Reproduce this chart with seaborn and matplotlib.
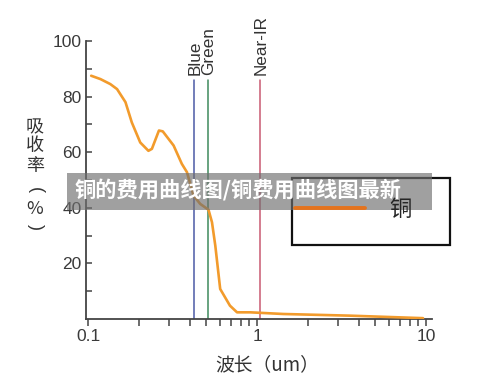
import matplotlib
matplotlib.use("Agg")
import matplotlib.pyplot as plt
import seaborn as sns
import pandas as pd
from matplotlib.patches import Rectangle
from matplotlib.lines import Line2D
from matplotlib.ticker import FixedLocator, NullFormatter

# ---- data ----
wavelength = [0.104, 0.118, 0.135, 0.148, 0.166, 0.181, 0.203, 0.227, 0.238, 0.262,
              0.276, 0.32, 0.358, 0.384, 0.42, 0.46, 0.515, 0.54, 0.565, 0.604,
              0.69, 0.76, 0.91, 1.43, 3.55, 9.6]
absorption = [87.5, 86.3, 84.5, 82.7, 78.0, 70.7, 63.5, 60.5, 61.2, 67.8,
              67.5, 62.4, 55.8, 52.8, 44.4, 41.4, 39.3, 34.8, 26.4, 10.8,
              4.8, 2.4, 2.4, 1.8, 1.2, 0.3]
band_names = ["Blue", "Green", "Near-IR"]
band_positions = [0.425, 0.511, 1.04]
band_colors = ["#4c5aa6", "#3f8a5c", "#c95a72"]
x_ticks = [0.1, 1, 10]
x_tick_labels = ["0.1", "1", "10"]
y_ticks = [20, 40, 60, 80, 100]
y_minor_ticks = [10, 30, 50, 70, 90]
series_name = "铜"
banner_text = "铜的费用曲线图/铜费用曲线图最新"

sns.set_theme(style="white")
plt.rcParams["font.family"] = ["Noto Sans CJK SC", "DejaVu Sans"]

W, H = 500, 384
fig = plt.figure(figsize=(W / 100, H / 100), dpi=100)
ax = fig.add_axes([86 / W, 1 - 319 / H, (432 - 86) / W, (319 - 41) / H])

df = pd.DataFrame({"wavelength": wavelength, "absorption": absorption})
sns.lineplot(data=df, x="wavelength", y="absorption", ax=ax, color="#f29b2c",
             linewidth=1.9, zorder=3)

ax.set_xscale("log")
ax.set_xlim(0.0969, 10.85)
ax.set_ylim(0, 100)

for name, pos, col in zip(band_names, band_positions, band_colors):
    ax.axvline(pos, ymin=0, ymax=0.86, color=col, linewidth=1.1, zorder=2)
    ax.text(pos * 1.012, 87.6, name, rotation=90, ha="center", va="bottom",
            fontsize=12.3, color="#333333", family=["Liberation Sans", "DejaVu Sans"])

ax.set_xticks(x_ticks)
ax.set_xticklabels(x_tick_labels)
ax.xaxis.set_minor_formatter(NullFormatter())
ax.set_yticks(y_ticks)
ax.yaxis.set_minor_locator(FixedLocator(y_minor_ticks))
ax.tick_params(axis="x", which="both", direction="out", length=5, width=1.1,
               colors="#444444", labelcolor="#3a3a3a", labelsize=12.5, pad=2.5,
               bottom=True)
ax.tick_params(axis="y", which="both", direction="in", length=4, width=1.1,
               colors="#444444", labelcolor="#3a3a3a", labelsize=12.5, pad=3,
               left=True)
for lab in ax.get_xticklabels() + ax.get_yticklabels():
    lab.set_family(["Liberation Sans", "DejaVu Sans"])

ax.set_xlabel("")
ax.set_ylabel("")
for s in ["top", "right"]:
    ax.spines[s].set_visible(False)
for s in ["left", "bottom"]:
    ax.spines[s].set_color("#444444")
    ax.spines[s].set_linewidth(1.3)

# axis titles
fig.text(267 / W, 1 - 365 / H, "波长（um）", ha="center", va="center",
         fontsize=13.5, color="#333333")
ylab_chars = ["吸", "收", "率", "(", "%", ")"]
ylab_rot = [0, 0, 0, -90, 0, -90]
ylab_y = [127, 146, 166, 190, 209, 227]
for ch, rot, yy in zip(ylab_chars, ylab_rot, ylab_y):
    fam = ["Noto Sans CJK SC", "DejaVu Sans"] if rot == 0 else ["Liberation Sans", "DejaVu Sans"]
    fig.text(35 / W, 1 - yy / H, ch, ha="center", va="center", rotation=rot,
             fontsize=13, color="#333333", family=fam)

# legend box and legend
fig.patches.append(Rectangle((292 / W, 1 - 245 / H), 158 / W, 67 / H,
                             transform=fig.transFigure, fill=False,
                             edgecolor="#111111", linewidth=1.6, zorder=4))
handle = Line2D([], [], color="#e4731d", linewidth=2.8)
leg = fig.legend([handle], [series_name], loc="center left",
                 bbox_to_anchor=(284 / W, 1 - 209 / H), frameon=False, borderpad=0,
                 handlelength=3.15, handletextpad=1.1, fontsize=16)
leg.set_zorder(12)

# banner overlay
fig.patches.append(Rectangle((67 / W, 1 - 210 / H), (432 - 67) / W, 37 / H,
                             transform=fig.transFigure, facecolor="#6f6f6f",
                             edgecolor="none", alpha=0.66, zorder=10))
fig.text(75 / W, 1 - 190 / H, banner_text, ha="left", va="center",
         fontsize=15.3, fontweight="heavy", color="white", zorder=11)

fig.savefig("out.png", dpi=100)
